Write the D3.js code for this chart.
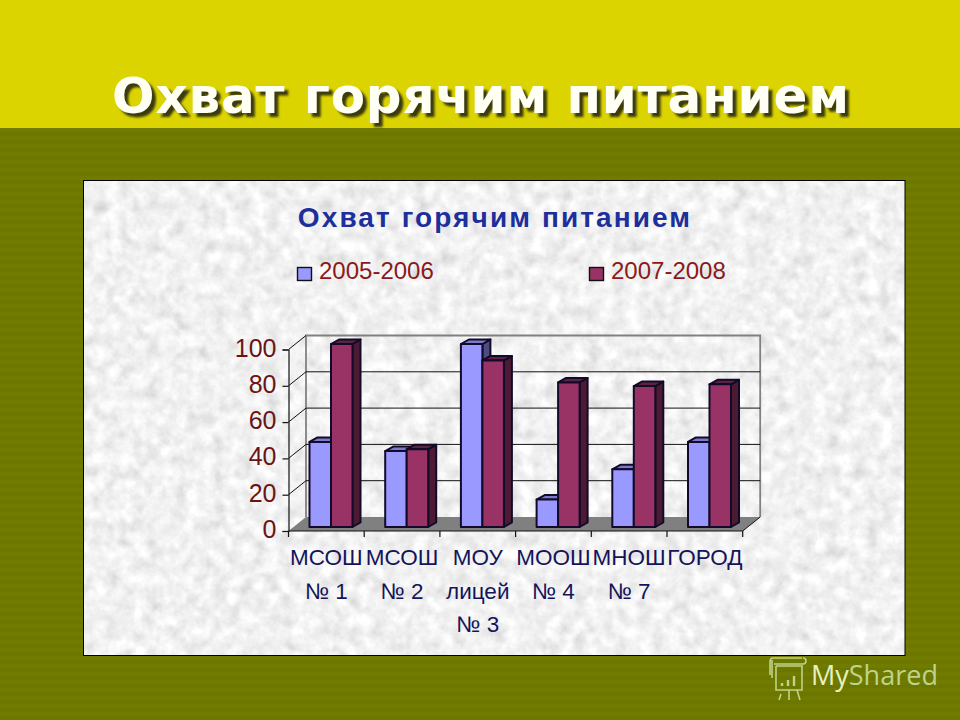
<!DOCTYPE html>
<html><head><meta charset="utf-8">
<script src="https://cdn.jsdelivr.net/npm/d3@7"></script>
<style>html,body{margin:0;padding:0;background:#6f7800}svg{display:block}</style>
</head><body><svg id="c" width="960" height="720"></svg>
<script>
const slideTitle = "Охват горячим питанием";
const chartTitle = "Охват горячим питанием";
const categories = ["c1","c2","c3","c4","c5","c6"];
const categoryLines = [["МСОШ","№ 1"],["МСОШ","№ 2"],["МОУ","лицей","№ 3"],["МООШ","№ 4"],["МНОШ","№ 7"],["ГОРОД"]];
const seriesNames = ["2005-2006","2007-2008"];
const values2005 = [46.5,41.5,100,15,31.5,46.5];
const values2007 = [100,42.5,91,79,77,78];
const yTicks = [0,20,40,60,80,100];
const watermark = ["My","Shared"];

const svg = d3.select("#c");
const defs = svg.append("defs");
const stripes = defs.append("pattern").attr("id","stripes").attr("width",8).attr("height",8).attr("patternUnits","userSpaceOnUse");
stripes.append("rect").attr("width",8).attr("height",8).attr("fill","#6c7700");
stripes.append("rect").attr("width",8).attr("height",4).attr("fill","#717b00");
const f = defs.append("filter").attr("id","paper").attr("x",0).attr("y",0).attr("width","100%").attr("height","100%");
f.append("feTurbulence").attr("type","fractalNoise").attr("baseFrequency",0.075).attr("numOctaves",4).attr("seed",7).attr("result","n");
f.append("feColorMatrix").attr("in","n").attr("type","matrix")
 .attr("values","0.32 0.32 0 0 0.56  0.32 0.32 0 0 0.56  0.32 0.32 0 0 0.56  0 0 0 0 1");
const blur = defs.append("filter").attr("id","soft").attr("x","-5%").attr("y","-20%").attr("width","110%").attr("height","140%");
blur.append("feGaussianBlur").attr("stdDeviation",1.2);

svg.append("rect").attr("width",960).attr("height",720).attr("fill","url(#stripes)");
svg.append("rect").attr("width",960).attr("height",128).attr("fill","#dcd400");

svg.append("text").attr("x",485).attr("y",117).attr("text-anchor","middle").attr("filter","url(#soft)")
  .style("font","bold 50px 'DejaVu Sans'").style("letter-spacing","0.85px").attr("fill","#3a3a10").text(slideTitle);
svg.append("text").attr("x",481).attr("y",113).attr("text-anchor","middle")
  .style("font","bold 50px 'DejaVu Sans'").style("letter-spacing","0.85px").attr("fill","#fffff4").text(slideTitle);

svg.append("rect").attr("x",83).attr("y",180).attr("width",822).attr("height",475).attr("filter","url(#paper)");
svg.append("rect").attr("x",83.5).attr("y",180.5).attr("width",821.5).attr("height",475).attr("fill","none").attr("stroke","#000");

svg.append("text").attr("x",495).attr("y",227).attr("text-anchor","middle")
  .style("font","bold 28px 'Liberation Sans'").style("letter-spacing","2.1px").attr("fill","#1c2f9a").text(chartTitle);

// legend
const legendX = d3.scaleOrdinal().domain(seriesNames).range([297,589]);
const colors = d3.scaleOrdinal().domain(seriesNames).range(["#9999ff","#993366"]);
const topColors = d3.scaleOrdinal().domain(seriesNames).range(["#7a7acc","#5a2440"]);
const sideColors = d3.scaleOrdinal().domain(seriesNames).range(["#4c4c80","#4d1a33"]);
const leg = svg.append("g").selectAll("g").data(seriesNames).join("g");
leg.append("rect").attr("x",d=>legendX(d)+.5).attr("y",267.5).attr("width",14).attr("height",13)
  .attr("fill",d=>colors(d)).attr("stroke","#111").attr("stroke-width",1.4);
leg.append("text").attr("x",d=>legendX(d)+22).attr("y",279).style("font","24px 'Liberation Sans'").attr("fill","#8a1a1a").text(d=>d);

// 3D frame
const depth = {x:17.5,y:-14};
const barDepth = {x:8,y:-4.5};
const x = d3.scaleBand().domain(categories).range([288.5,742.7]);
const y = d3.scaleLinear().domain([0,100]).range([531,349.5]);
const yBar = d3.scaleLinear().domain([0,100]).range([527,344]);
const inner = d3.scaleBand().domain(seriesNames).range([21,64]);

const frame = svg.append("g");
frame.append("path").attr("fill","#808080").attr("d",
  `M${x.range()[0]},${y(0)}L${x.range()[1]},${y(0)}L${x.range()[1]+depth.x},${y(0)+depth.y}L${x.range()[0]+depth.x},${y(0)+depth.y}Z`);
frame.append("path").attr("fill","none").attr("stroke","#808080").attr("stroke-width",1.8).attr("d",
  `M${x.range()[0]+depth.x},${y(0)+depth.y}V${y(100)+depth.y}H${x.range()[1]+depth.x}V${y(0)+depth.y}`);
frame.selectAll("line.g").data(yTicks.filter(d=>d>0&&d<100)).join("line").attr("class","g")
  .attr("x1",x.range()[0]+depth.x).attr("x2",x.range()[1]+depth.x)
  .attr("y1",d=>y(d)+depth.y).attr("y2",d=>y(d)+depth.y).attr("stroke","#111").attr("stroke-width",1);
frame.selectAll("line.w").data(yTicks.filter(d=>d>0)).join("line").attr("class","w")
  .attr("x1",x.range()[0]).attr("x2",x.range()[0]+depth.x)
  .attr("y1",d=>y(d)).attr("y2",d=>y(d)+depth.y).attr("stroke","#111").attr("stroke-width",1);
frame.append("line").attr("x1",x.range()[1]).attr("x2",x.range()[1]+depth.x).attr("y1",y(0)).attr("y2",y(0)+depth.y).attr("stroke","#111");

// bars
const rows = categories.flatMap((c,i)=>[
  {c,s:seriesNames[0],v:values2005[i]},{c,s:seriesNames[1],v:values2007[i]}]);
const bars = svg.append("g").attr("stroke","#120a28").attr("stroke-width",2).attr("stroke-linejoin","round");
const bw = inner.bandwidth();
rows.forEach(d=>{
  const x0 = x(d.c)+inner(d.s), x1 = x0+bw, t = yBar(d.v), b = yBar(0);
  const g = bars.append("g");
  g.append("path").attr("fill",sideColors(d.s)).attr("d",`M${x1},${b}L${x1+barDepth.x},${b+barDepth.y}V${t+barDepth.y}L${x1},${t}Z`);
  g.append("path").attr("fill",topColors(d.s)).attr("d",`M${x0},${t}L${x0+barDepth.x},${t+barDepth.y}H${x1+barDepth.x}L${x1},${t}Z`);
  g.append("rect").attr("fill",colors(d.s)).attr("x",x0).attr("y",t).attr("width",bw).attr("height",b-t);
});

// axes
const yAxis = d3.axisLeft(y).tickValues(yTicks).tickSize(6).tickPadding(6);
const yg = svg.append("g").attr("transform",`translate(${x.range()[0]},0)`).call(yAxis);
yg.selectAll("path,line").attr("stroke","#111").attr("stroke-width",1.2);
yg.selectAll("text").style("font","25px 'Liberation Sans'").attr("fill","#6a1414").attr("dy","0.26em");

const xTickPos = categories.map(c=>x(c)).concat(x.range()[1]);
svg.append("line").attr("x1",x.range()[0]).attr("x2",x.range()[1]).attr("y1",y(0)).attr("y2",y(0)).attr("stroke","#111").attr("stroke-width",1.2);
svg.append("g").selectAll("line").data(xTickPos).join("line")
  .attr("x1",d=>d).attr("x2",d=>d).attr("y1",y(0)).attr("y2",y(0)+6).attr("stroke","#111").attr("stroke-width",1.2);

const labels = svg.append("g").selectAll("text").data(categories).join("text")
  .attr("text-anchor","middle").attr("fill","#14145a").style("font","22.5px 'Liberation Sans'");
labels.each(function(c,i){
  d3.select(this).selectAll("tspan").data(categoryLines[i]).join("tspan")
    .attr("x",x(c)+x.bandwidth()/2).attr("y",(d,j)=>565+j*33.5).text(d=>d);
});

// watermark
const wm = svg.append("g").attr("fill","none").attr("stroke","#c8dc96").attr("stroke-width",1.6).attr("opacity",.9);
wm.append("path").attr("d","M770,675V662Q770,658 773,658H802M772,660V678M776,666H802V690H776V666M803,658a3,3 0 0 1 0,6H774M781,694L779,700M797,690L800,700M789,690V700");
wm.append("path").attr("stroke-width",2.4).attr("d","M782,686V683M788,686V680M794,686V676");
const wt = svg.append("text").attr("x",811).attr("y",685).style("font","27px 'Open Sans'");
wt.append("tspan").attr("fill","#e8f0c0").text(watermark[0]);
wt.append("tspan").attr("fill","#bcd48c").text(watermark[1]);
</script></body></html>
